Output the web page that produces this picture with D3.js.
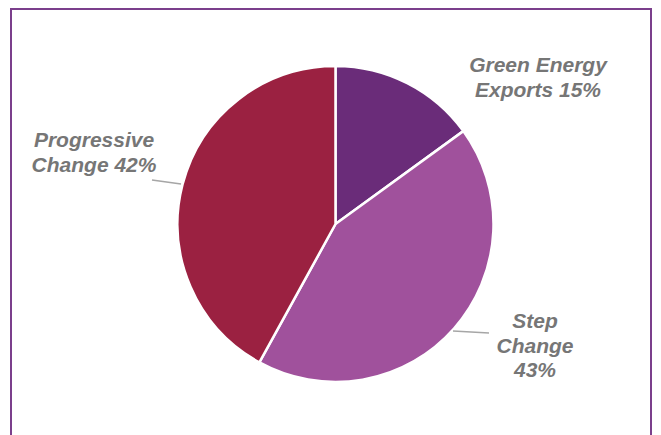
<!DOCTYPE html>
<html><head><meta charset="utf-8">
<script src="https://cdn.jsdelivr.net/npm/d3@7"></script>
<style>body{margin:0;background:#fff;}svg{display:block;}</style>
</head><body>
<script>
const categories = ["Green Energy Exports", "Step Change", "Progressive Change"];
const values = [15, 43, 42];
const colors = ["#6A2C79", "#A0519C", "#9B2141"];
const labelLines = [["Green Energy", "Exports 15%"], ["Step", "Change", "43%"], ["Progressive", "Change 42%"]];

const W = 661, H = 435;
const svg = d3.select("body").append("svg").attr("width", W).attr("height", H);

svg.append("path")
  .attr("d", `M11,${H+5} L11,9 L651,9 L651,${H+5}`)
  .attr("fill", "none").attr("stroke", "#7B3F8C").attr("stroke-width", 2);

const cx = 335.5, cy = 224, r = 158;
const pie = d3.pie().sort(null).value(d => d)(values);
const arc = d3.arc().innerRadius(0).outerRadius(r);
const g = svg.append("g").attr("transform", `translate(${cx},${cy})`);
g.selectAll("path").data(pie).join("path")
  .attr("d", arc).attr("fill", (d, i) => colors[i])
  .attr("stroke", "#fff").attr("stroke-width", 2.5).attr("stroke-linejoin", "round");

// leader lines
const leaders = [null, [[453 - cx, 331 - cy], [489 - cx, 333 - cy]], [[152 - cx, 180 - cy], [181 - cx, 184 - cy]]];
leaders.forEach((l, i) => {
  if (!l) return;
  g.append("path").attr("d", d3.line()(l)).attr("stroke", "#A6A6A6").attr("stroke-width", 1.5).attr("fill", "none");
});

const labelPos = [[538, 72], [535, 328], [94, 147]];
const lh = 24.5;
labelLines.forEach((lines, i) => {
  const t = svg.append("text")
    .attr("x", labelPos[i][0]).attr("y", labelPos[i][1])
    .attr("text-anchor", "middle")
    .attr("font-family", "Liberation Sans, Arial, sans-serif")
    .attr("font-weight", "bold").attr("font-style", "italic")
    .attr("font-size", 21).attr("fill", "#767676");
  lines.forEach((s, j) => t.append("tspan").attr("x", labelPos[i][0]).attr("dy", j === 0 ? 0 : lh).text(s));
});
</script>
</body></html>
